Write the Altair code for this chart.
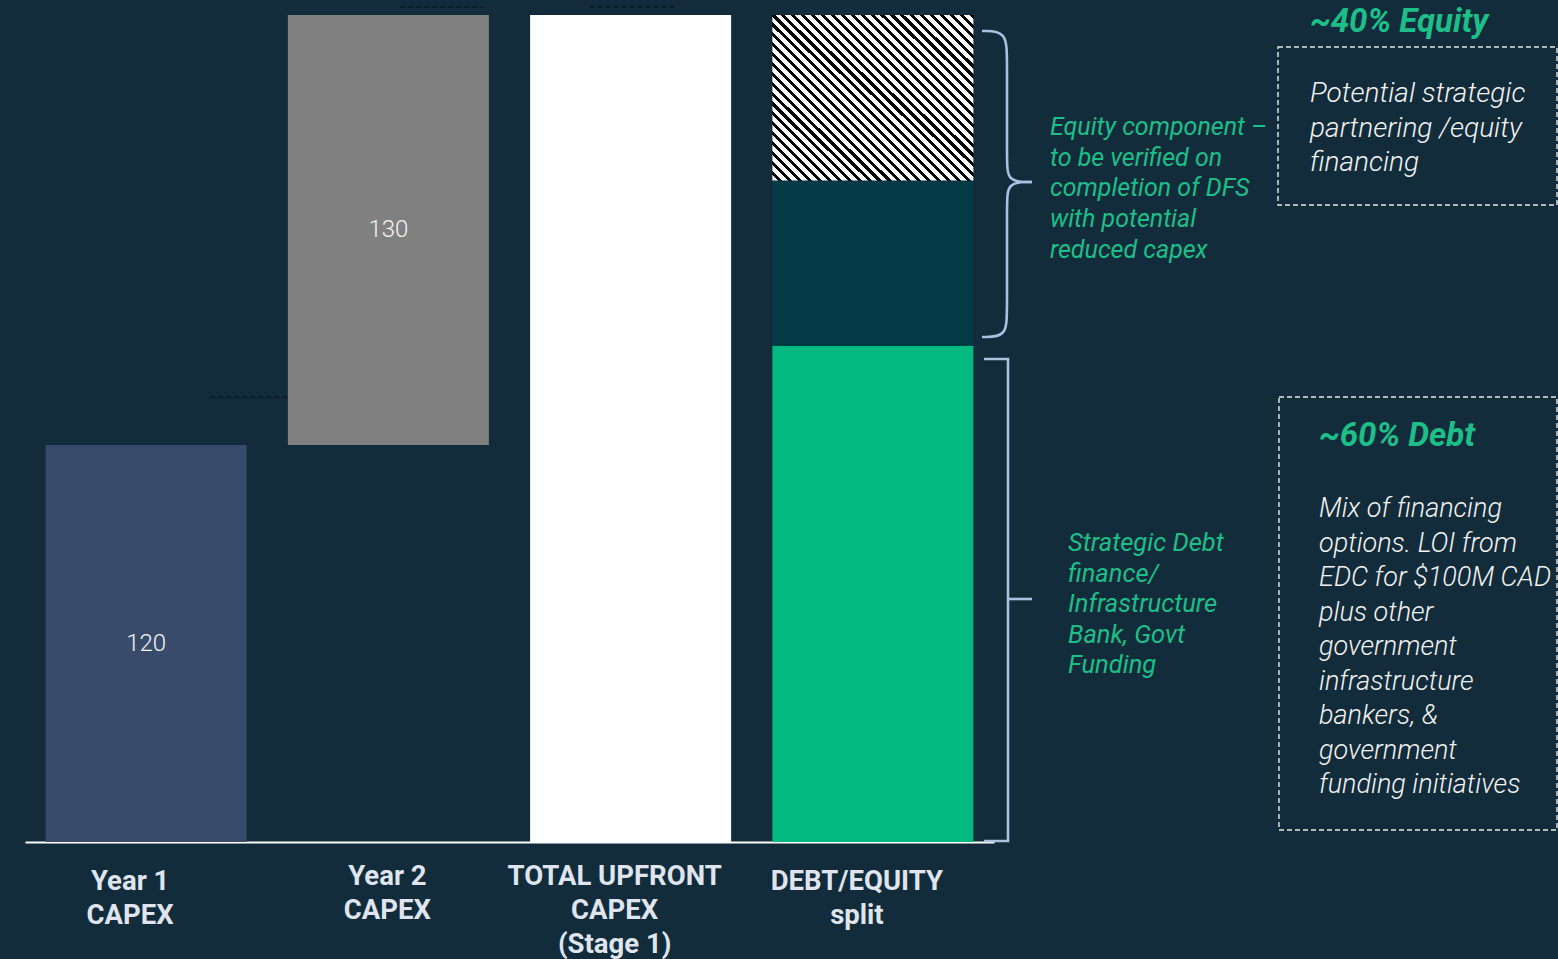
import altair as alt
import pandas as pd

# ---------------- data ----------------
categories = ["Year 1\nCAPEX", "Year 2\nCAPEX", "TOTAL UPFRONT\nCAPEX\n(Stage 1)", "DEBT/EQUITY\nsplit"]
year1_capex = 120
year2_capex = 130
total_capex = 250
debt_part = 150          # ~60% debt
equity_part = 50         # equity (solid)
equity_hatched = 50      # equity (to be verified, hatched)

parts = ["Year 1", "Year 2", "Total", "Debt", "Equity"]
part_colors = ["#384b6b", "#808080", "#ffffff", "#02b980", "#033a46"]

seg_rows = [
    {"cat": categories[0], "start": 0, "end": year1_capex, "part": "Year 1", "label": str(year1_capex)},
    {"cat": categories[1], "start": year1_capex, "end": year1_capex + year2_capex, "part": "Year 2", "label": str(year2_capex)},
    {"cat": categories[2], "start": 0, "end": total_capex, "part": "Total", "label": ""},
    {"cat": categories[3], "start": 0, "end": debt_part, "part": "Debt", "label": ""},
    {"cat": categories[3], "start": debt_part, "end": debt_part + equity_part, "part": "Equity", "label": ""},
]
segments = pd.DataFrame(seg_rows)
hatch = pd.DataFrame([{"cat": categories[3], "start": debt_part + equity_part,
                       "end": debt_part + equity_part + equity_hatched}])

equity_note = ["Equity component \u2013", "to be verified on", "completion of DFS",
               "with potential", "reduced capex"]
debt_note = ["Strategic Debt", "finance/", "Infrastructure", "Bank, Govt", "Funding"]
equity_head = "~40% Equity"
equity_body = ["Potential strategic", "partnering /equity", "financing"]
debt_head = "~60% Debt"
debt_body = ["Mix of financing", "options. LOI from", "EDC for $100M CAD", "plus other",
             "government", "infrastructure", "bankers, &", "government", "funding initiatives"]

# ---------------- styling ----------------
BG = "#122c3b"
GREEN_TXT = "#1dbf89"
BRACE = "#a9c1df"
FONT = "Roboto"

x_enc = alt.X(
    "cat:N", sort=categories,
    scale=alt.Scale(range=[25, 994], paddingInner=0.1694, paddingOuter=0.0847),
    axis=alt.Axis(
        title=None, labelExpr="split(datum.label, '\\n')", labelAngle=0,
        ticks=False, domainColor="#ffffff", domainWidth=2,
        labelColor="#dfe4ee", labelFont=FONT, labelFontSize=27.5,
        labelFontWeight="bold", labelLineHeight=34,
        labelPadding={"condition": {"test": "indexof(datum.label, 'Year 1') >= 0 || indexof(datum.label, 'DEBT') >= 0",
                                    "value": 25},
                      "value": 20},
        labelOffset={"condition": {"test": "indexof(datum.label, 'Year 2') >= 0", "value": -1},
                     "value": -16},
        labelLimit=400, grid=False),
)
y_scale = alt.Scale(domain=[0, 254.53], nice=False, zero=True)

bars = alt.Chart(segments).mark_bar(size=201).encode(
    x=x_enc,
    y=alt.Y("start:Q", scale=y_scale, axis=None),
    y2="end:Q",
    color=alt.Color("part:N", scale=alt.Scale(domain=parts, range=part_colors), legend=None),
)

# diagonal hatch as a hard-stop linear gradient
N = 37
stops = []
for i in range(N):
    a = i / N
    b = (i + 0.58) / N
    c = (i + 1) / N
    stops += [alt.GradientStop(color="#ffffff", offset=a), alt.GradientStop(color="#ffffff", offset=b),
              alt.GradientStop(color="#000000", offset=b), alt.GradientStop(color="#000000", offset=c)]
hatch_fill = alt.LinearGradient(gradient="linear", stops=stops, x1=0, y1=1, x2=1.0856, y2=0.1033)

hatched = alt.Chart(hatch).mark_bar(size=201, color=hatch_fill).encode(
    x=alt.X("cat:N", sort=categories),
    y=alt.Y("start:Q", scale=y_scale),
    y2="end:Q",
)

value_labels = alt.Chart(segments).transform_filter("datum.label != ''").transform_calculate(
    mid="(datum.start + datum.end) / 2"
).mark_text(font=FONT, fontSize=24, fontWeight=300, color="#f3f3f3").encode(
    x=alt.X("cat:N", sort=categories),
    y=alt.Y("mid:Q", scale=y_scale),
    text="label:N",
)

one = pd.DataFrame({"k": [0]})

# dashed connector stubs
def stub(x0, x1, y):
    return alt.Chart(one).mark_rule(color="#0b1922", strokeWidth=1.5, strokeDash=[5, 3]).encode(
        x=alt.value(x0), x2=alt.value(x1), y=alt.value(y))

connectors = [stub(210, 288, 397), stub(400, 484, 7), stub(590, 674, 7)]

# braces
brace_pts = pd.DataFrame({
    "seg": ["a"] * 9 + ["b"] * 9,
    "o": list(range(9)) * 2,
    "px": [982, 982, 1007, 1007, 1007, 1007, 1032, 1032, 1032,
           1032, 1032, 1007, 1007, 1007, 1007, 982, 982, 982],
    "py": [31, 31, 31, 60, 160, 182, 182, 182, 182,
           182, 182, 182, 204, 310, 337, 337, 337, 337],
})
curly = alt.Chart(brace_pts).mark_line(color=BRACE, strokeWidth=2.6, interpolate="basis").encode(
    x=alt.X("px:Q", scale=None), y=alt.Y("py:Q", scale=None), detail="seg:N", order="o:Q")

bracket_pts = pd.DataFrame({
    "seg": ["m"] * 4 + ["t"] * 2,
    "o": [0, 1, 2, 3, 0, 1],
    "px": [984, 1008, 1008, 984, 1008, 1032],
    "py": [359, 359, 841, 841, 599, 599],
})
bracket = alt.Chart(bracket_pts).mark_line(color=BRACE, strokeWidth=2.6, strokeJoin="miter").encode(
    x=alt.X("px:Q", scale=None), y=alt.Y("py:Q", scale=None), detail="seg:N", order="o:Q")

# dashed boxes
def box(x0, x1, y0, y1):
    return alt.Chart(one).mark_rect(fillOpacity=0, stroke="#e8e8e8", strokeWidth=1.4,
                                    strokeDash=[5, 3]).encode(
        x=alt.value(x0), x2=alt.value(x1), y=alt.value(y0), y2=alt.value(y1))

boxes = [box(1278, 1557, 47, 205), box(1279, 1557, 397, 830)]

def txt(lines, x, y, size, color, lh, weight="normal", style="italic"):
    return alt.Chart(one).mark_text(
        text=lines, align="left", baseline="alphabetic", font=FONT, fontSize=size,
        fontStyle=style, fontWeight=weight, color=color, lineHeight=lh,
    ).encode(x=alt.value(x), y=alt.value(y))

texts = [
    txt(equity_note, 1050, 135, 25, GREEN_TXT, 30.7),
    txt(debt_note, 1068, 551, 25.5, GREEN_TXT, 30.5),
    txt(equity_head, 1310, 32, 33, GREEN_TXT, 34, weight="bold"),
    txt(equity_body, 1310, 102, 28, "#f2f2f2", 34.5, weight=300),
    txt(debt_head, 1319, 446, 33, GREEN_TXT, 34, weight="bold"),
    txt(debt_body, 1319, 517, 27, "#f2f2f2", 34.5, weight=300),
]

chart = alt.layer(
    bars, hatched, value_labels, *connectors, curly, bracket, *boxes, *texts
).properties(
    width=1558, height=842,
    padding={"left": 0, "top": 0, "right": 0, "bottom": 117},
    autosize=alt.AutoSizeParams(type="none"),
    background=BG,
).configure_view(stroke=None)

chart.save("out.html", embed_options={"renderer": "svg", "actions": False})
